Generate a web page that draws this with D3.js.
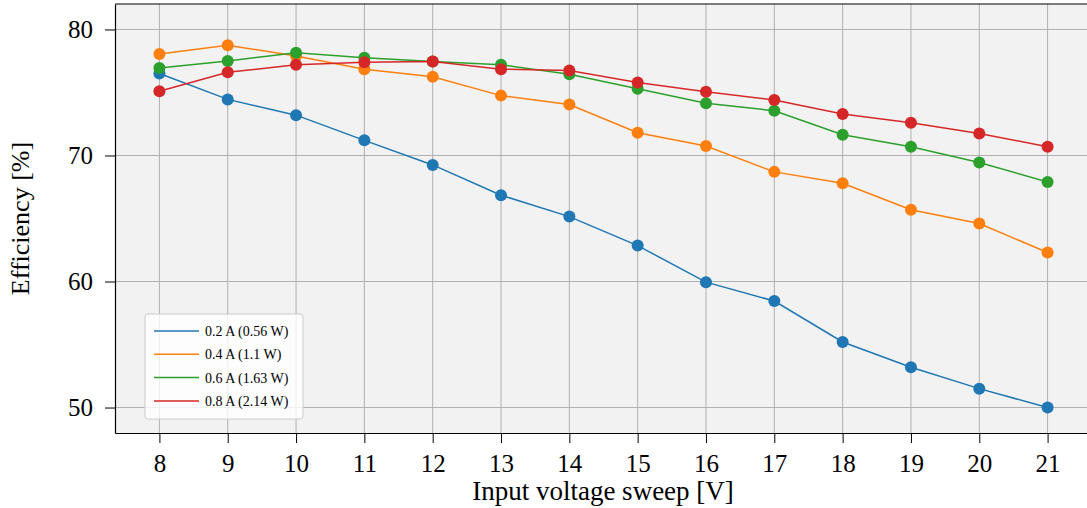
<!DOCTYPE html>
<html>
<head>
<meta charset="utf-8">
<script src="https://cdn.jsdelivr.net/npm/d3@7"></script>
<style>
  body { margin: 0; background: #fff; }
  svg { display: block; font-family: "Liberation Serif", "DejaVu Serif", serif; }
</style>
</head>
<body>
<svg id="chart" width="1087" height="508"></svg>
<script>
const voltages = [8, 9, 10, 11, 12, 13, 14, 15, 16, 17, 18, 19, 20, 21];
const yTicks = [50, 60, 70, 80];

const eff02 = [76.5, 74.45, 73.2, 71.2, 69.25, 66.85, 65.15, 62.85, 59.95, 58.45, 55.2, 53.2, 51.5, 50.0];
const eff04 = [78.05, 78.75, 77.9, 76.85, 76.25, 74.75, 74.05, 71.8, 70.75, 68.7, 67.8, 65.7, 64.6, 62.3];
const eff06 = [76.95, 77.5, 78.15, 77.75, 77.45, 77.2, 76.45, 75.3, 74.15, 73.55, 71.65, 70.7, 69.45, 67.9];
const eff08 = [75.1, 76.6, 77.2, 77.4, 77.45, 76.85, 76.75, 75.8, 75.05, 74.4, 73.3, 72.6, 71.75, 70.7];

const seriesNames = ["0.2 A (0.56 W)", "0.4 A (1.1 W)", "0.6 A (1.63 W)", "0.8 A (2.14 W)"];
const seriesColors = ["#1f77b4", "#ff7f0e", "#2ca02c", "#d62728"];
const seriesValues = [eff02, eff04, eff06, eff08];

const svg = d3.select("#chart");
const margin = { top: 4, left: 115, bottom: 433 };
const plotRight = 1092;

const x = d3.scaleLinear().domain([7.35, 21.65]).range([margin.left, plotRight]);
const y = d3.scaleLinear().domain([47.98, 82.02]).range([margin.bottom, margin.top]);

// plot background
svg.append("rect")
  .attr("x", margin.left).attr("y", margin.top)
  .attr("width", plotRight - margin.left).attr("height", margin.bottom - margin.top)
  .attr("fill", "#f2f2f2");

// grid
const grid = svg.append("g").attr("stroke", "#b0b0b0").attr("stroke-width", 1);
grid.selectAll(".gx").data(voltages).join("line")
  .attr("x1", d => x(d)).attr("x2", d => x(d))
  .attr("y1", margin.top).attr("y2", margin.bottom);
grid.selectAll(".gy").data(yTicks).join("line")
  .attr("x1", margin.left).attr("x2", plotRight)
  .attr("y1", d => y(d)).attr("y2", d => y(d));

// lines + markers
const line = d3.line().x((d, i) => x(voltages[i])).y(d => y(d));
seriesValues.forEach((vals, k) => {
  const g = svg.append("g");
  g.append("path")
    .attr("d", line(vals))
    .attr("fill", "none")
    .attr("stroke", seriesColors[k])
    .attr("stroke-width", 1.5);
  g.selectAll("circle").data(vals).join("circle")
    .attr("cx", (d, i) => x(voltages[i]))
    .attr("cy", d => y(d))
    .attr("r", 6)
    .attr("fill", seriesColors[k]);
});

// axes
const xAxis = svg.append("g")
  .attr("transform", `translate(0,${margin.bottom})`)
  .call(d3.axisBottom(x).tickValues(voltages).tickSize(10).tickPadding(12).tickSizeOuter(0));
const yAxis = svg.append("g")
  .attr("transform", `translate(${margin.left},0)`)
  .call(d3.axisLeft(y).tickValues(yTicks).tickSize(10).tickPadding(12).tickSizeOuter(0));

[xAxis, yAxis].forEach(a => {
  a.select(".domain").attr("stroke", "#000").attr("stroke-width", 1.2);
  a.selectAll(".tick line").attr("stroke", "#000").attr("stroke-width", 1);
  a.selectAll(".tick text")
    .attr("font-family", "Liberation Serif, DejaVu Serif, serif")
    .attr("font-size", 25).attr("fill", "#000");
});
xAxis.selectAll(".tick text").attr("dy", "0.68em");

// top frame
svg.append("line")
  .attr("x1", margin.left).attr("x2", plotRight)
  .attr("y1", margin.top).attr("y2", margin.bottom - margin.bottom + margin.top)
  .attr("stroke", "#000").attr("stroke-width", 1.2);

// axis labels
svg.append("text")
  .attr("x", 603).attr("y", 500)
  .attr("text-anchor", "middle")
  .attr("font-size", 27)
  .text("Input voltage sweep [V]");
svg.append("text")
  .attr("transform", `translate(29,${(margin.top + margin.bottom) / 2}) rotate(-90)`)
  .attr("text-anchor", "middle")
  .attr("font-size", 26)
  .text("Efficiency [%]");

// legend
const legend = svg.append("g").attr("transform", "translate(145,314)");
legend.append("rect")
  .attr("width", 158).attr("height", 105).attr("rx", 3)
  .attr("fill", "#fff").attr("fill-opacity", 0.8)
  .attr("stroke", "#cccccc").attr("stroke-width", 1);
const items = legend.selectAll(".item").data(seriesNames).join("g")
  .attr("transform", (d, i) => `translate(0,${17 + i * 23.3})`);
items.append("line")
  .attr("x1", 9).attr("x2", 54)
  .attr("stroke", (d, i) => seriesColors[i]).attr("stroke-width", 1.5);
items.append("text")
  .attr("x", 60).attr("dy", "0.35em")
  .attr("font-size", 14)
  .text(d => d);
</script>
</body>
</html>
